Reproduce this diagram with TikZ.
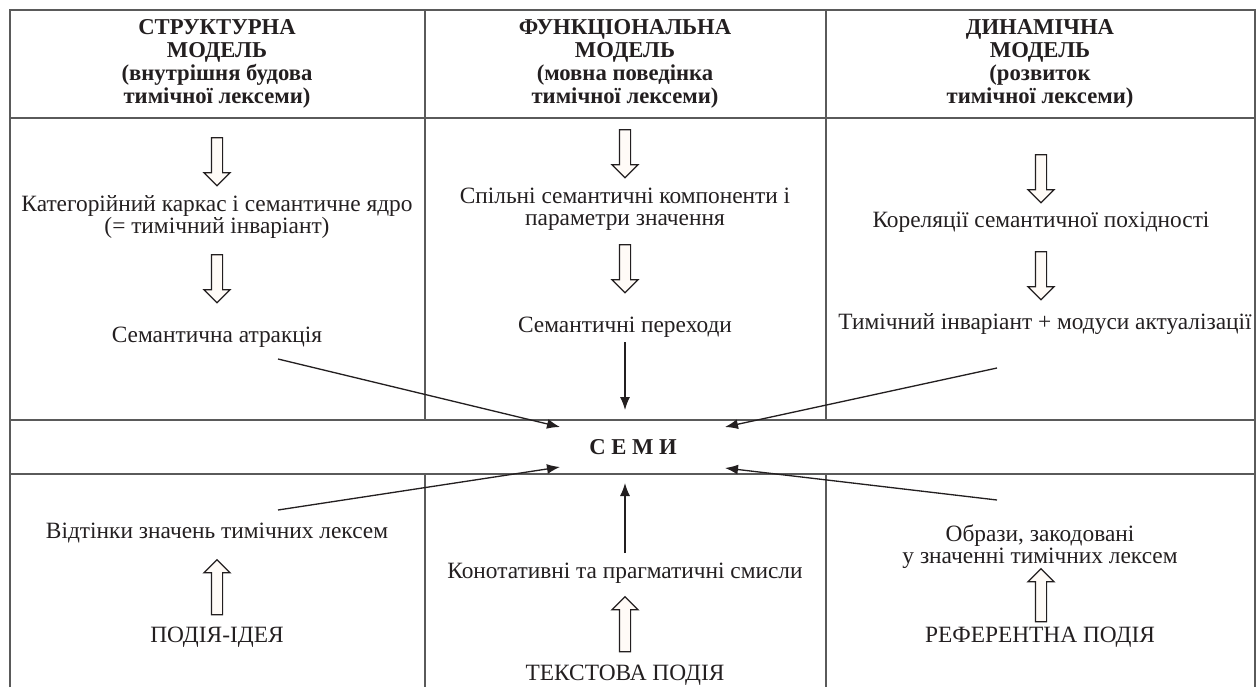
\documentclass[tikz,border=0pt]{standalone}
\usepackage{fontspec}
\setmainfont{Liberation Serif}
\usetikzlibrary{shapes,calc,positioning,arrows.meta}
\definecolor{inkgray}{RGB}{35,31,32}
\definecolor{rulegray}{RGB}{90,90,90}
\definecolor{hollowfill}{RGB}{255,251,247}

\begin{document}
\begin{tikzpicture}[x=0.02cm,y=-0.02cm,
                    every node/.append style={text=inkgray, align=center},
                    hdr/.style={font=\bfseries\fontsize{12.9}{13.1}\selectfont},
                    txt/.style={font=\fontsize{13.3}{12.6}\selectfont},
                    holl/.style={single arrow, draw=inkgray, fill=hollowfill,
                      line width=.7pt, inner xsep=0pt, inner ysep=.1cm,
                      single arrow head extend=.15cm, minimum height=#1},
                    holl/.default=.96cm,
                    conn/.style={-{Latex[length=.26cm,width=.2cm]},
                      line width=.75pt, draw=inkgray}]
    \useasboundingbox (0,0) rectangle (1258,687);
    \begin{scope}[draw=rulegray, line width=1pt]
      \draw (10,687) -- (10,10) -- (1255,10) -- (1255,687);
      \draw (10,118) -- (1255,118);
      \draw (10,420) -- (1255,420) (10,474) -- (1255,474);
      \foreach \cx in {425,826}
        \draw (\cx,10) -- (\cx,420) (\cx,474) -- (\cx,687);
    \end{scope}
    \node[hdr] (hdrS) at (217,64) {СТРУКТУРНА\\МОДЕЛЬ\\(внутрішня будова\\тимічної лексеми)};
    \node[hdr] (hdrF) at (625,64) {ФУНКЦІОНАЛЬНА\\МОДЕЛЬ\\(мовна поведінка\\тимічної лексеми)};
    \node[hdr] (hdrD) at (1040,64) {ДИНАМІЧНА\\МОДЕЛЬ\\(розвиток\\тимічної лексеми)};

    \node[txt] (s1) at (217,217) {Категорійний каркас і семантичне ядро\\(= тимічний інваріант)};
    \node[txt] (s2) at (217,337) {Семантична атракція};
    \node[txt] (f1) at (625,209) {Спільні семантичні компоненти і\\параметри значення};
    \node[txt] (f2) at (625,327) {Семантичні переходи};
    \node[txt] (d1) at (1041,222) {Кореляції семантичної похідності};
    \node[txt] (d2) at (1045,324) {Тимічний інваріант + модуси актуалізації};

    \node[font=\bfseries\fontsize{12.9}{14}\selectfont] (semy) at (633,447) {С~Е~М~И};

    \node[txt] (b1) at (217,533) {Відтінки значень тимічних лексем};
    \node[txt] (b0) at (217,637) {ПОДІЯ-ІДЕЯ};
    \node[txt] (t1) at (625,573) {Конотативні та прагматичні смисли};
    \node[txt] (t0) at (625,675) {ТЕКСТОВА ПОДІЯ};
    \node[txt] (r1) at (1040,547) {Образи, закодовані\\у значенні тимічних лексем};
    \node[txt] (r0) at (1040,637) {РЕФЕРЕНТНА ПОДІЯ};

    \node[holl, rotate=-90] (hS1) at (217,159) {};
    \node[holl, rotate=-90] (hS2) at (217,276) {};
    \node[holl, rotate=-90] (hF1) at (625,151) {};
    \node[holl, rotate=-90] (hF2) at (625,266) {};
    \node[holl, rotate=-90] (hD1) at (1041,176) {};
    \node[holl, rotate=-90] (hD2) at (1041,273) {};
    \node[holl=1.1cm, rotate=90] (hB) at (217,590) {};
    \node[holl=1.1cm, rotate=90] (hT) at (625,627) {};
    \node[holl=1.06cm, rotate=90] (hR) at (1041,598) {};

    \draw[conn] ($(s2.center)+(61,22)$) -- ($(semy.center)+(-73,-20)$);
    \draw[conn] ($(f2.center)+(0,15)$) -- ($(semy.center)+(-8,-37)$);
    \draw[conn] ($(d2.center)+(-48,44)$) -- ($(semy.center)+(92,-20)$);
    \draw[conn] ($(b1.center)+(61,-23)$) -- ($(semy.center)+(-73,20)$);
    \draw[conn] ($(t1.center)+(0,-20)$) -- ($(semy.center)+(-8,36)$);
    \draw[conn] ($(r1.center)+(-43,-47)$) -- ($(semy.center)+(92,21)$);
\end{tikzpicture}
\end{document}
